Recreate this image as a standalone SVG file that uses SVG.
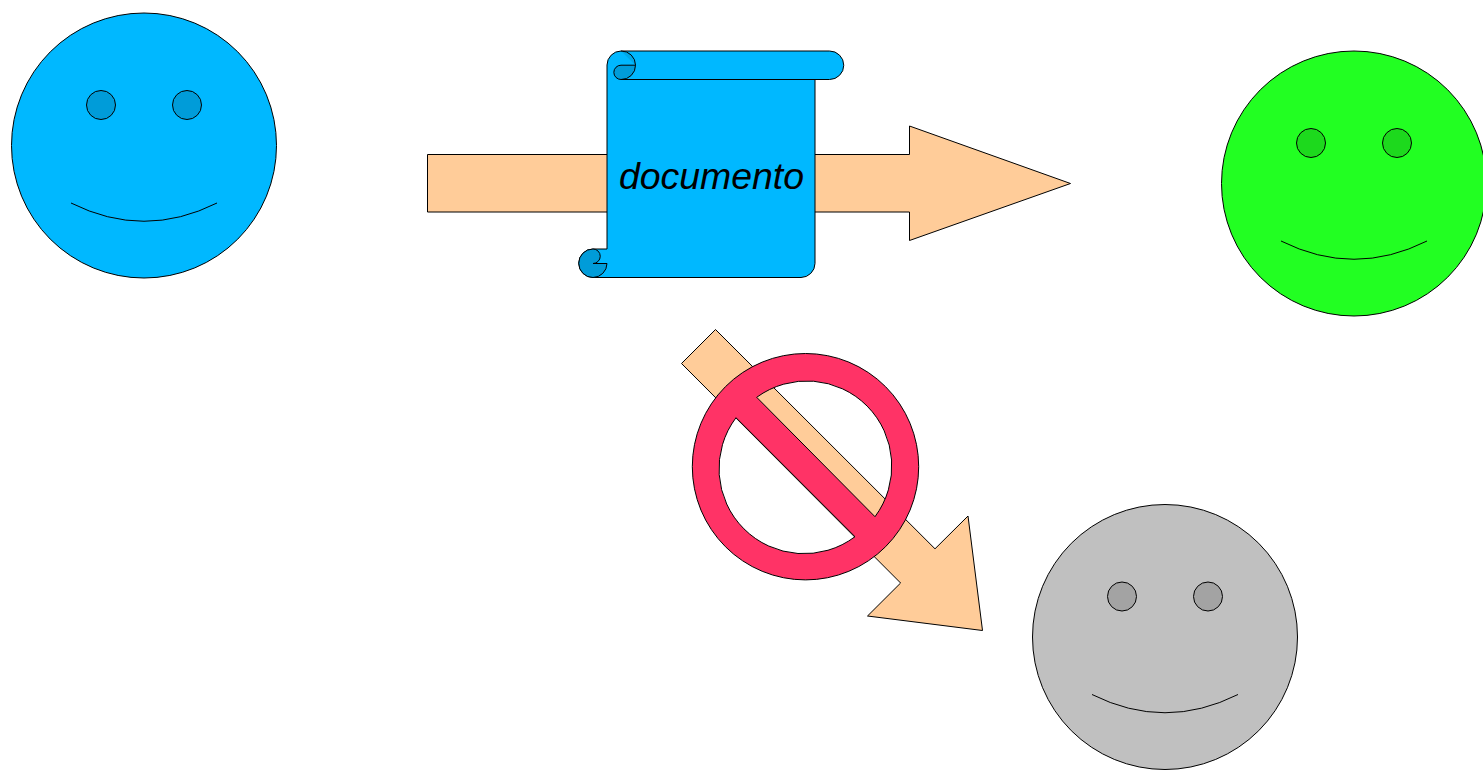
<svg xmlns="http://www.w3.org/2000/svg" width="1483" height="771" viewBox="0 0 1483 771">
<style>
.l{stroke:#000;stroke-width:1;stroke-linejoin:round}
.arrow{fill:#ffcc99}
.mouth{fill:none}
.t{font-family:"Liberation Sans",Arial,sans-serif;font-style:italic;font-size:37.400px;fill:#000}
</style>
<defs>
<g id="face-line"><path class="l mouth" d="M-73,57.500Q0,94 73,57.500"/></g>
</defs>
<rect width="1483" height="771" fill="#fff"/>
<g id="connectors">
<path id="arrow-accepted" class="l arrow" d="M427.500,154.500H909.500V126L1070.500,183.500L909.500,240.500V212H427.500Z"/>
<path id="arrow-blocked" class="l arrow" d="M715.500,329.500L935,548.800L968,516L982.500,630.500L867.500,616L900.600,583L681.500,363.500Z"/>
</g>
<g id="person-blue">
<circle class="l" cx="144" cy="145.500" r="132.500" fill="#00b8ff"/>
<circle class="l" cx="101" cy="105" r="14.500" fill="#009cd9"/>
<circle class="l" cx="187" cy="105" r="14.500" fill="#009cd9"/>
<use href="#face-line" x="144" y="145.500"/>
</g>
<g id="person-green">
<circle class="l" cx="1354" cy="183.500" r="132.500" fill="#22ff22"/>
<circle class="l" cx="1311" cy="143" r="14.500" fill="#1dd91d"/>
<circle class="l" cx="1397" cy="143" r="14.500" fill="#1dd91d"/>
<use href="#face-line" x="1354" y="183.500"/>
</g>
<g id="person-gray">
<circle class="l" cx="1165" cy="637" r="132.500" fill="#c0c0c0"/>
<circle class="l" cx="1122" cy="596.500" r="14.500" fill="#a3a3a3"/>
<circle class="l" cx="1208" cy="596.500" r="14.500" fill="#a3a3a3"/>
<use href="#face-line" x="1165" y="637"/>
</g>
<g id="document">
<path class="l" fill="#00b8ff" d="M607,65A14.200,14.200 0 0 1 621,51H829.500A14.200,14.200 0 0 1 829.500,79.500H815V263.500A14.200,14.200 0 0 1 801,277.500H593A14.200,14.200 0 0 1 593,249H607Z"/>
<path class="l" fill="#009cd9" d="M621,79.500A7,7 0 0 1 621,65.200H635.500A14.200,14.200 0 0 1 621,79.500Z"/>
<path fill="#00a8e8" d="M621,51A14.200,14.200 0 0 1 635.500,65.200Z"/>
<path class="l" fill="none" d="M621,51A14.200,14.200 0 0 1 635.500,65.200M621,79.500H815"/>
<path class="l" fill="#009cd9" d="M593,249A14.200,14.200 0 0 0 593,277.500A14.200,14.200 0 0 0 607,263.500H593A7,7 0 0 0 593,249Z"/>
<text class="t" x="711.500" y="189" text-anchor="middle">documento</text>
</g>
<g id="prohibition">
<path class="l" fill="#ff3366" fill-rule="evenodd" d="M692.300,466.700A113.200,113.200 0 1 1 918.700,466.700A113.200,113.200 0 1 1 692.300,466.700ZM756.700,397.300L875,516.700A85,85 0 0 0 756.700,397.300ZM736,417.700A85,85 0 0 0 855,536.700Z"/>
</g>
</svg>
